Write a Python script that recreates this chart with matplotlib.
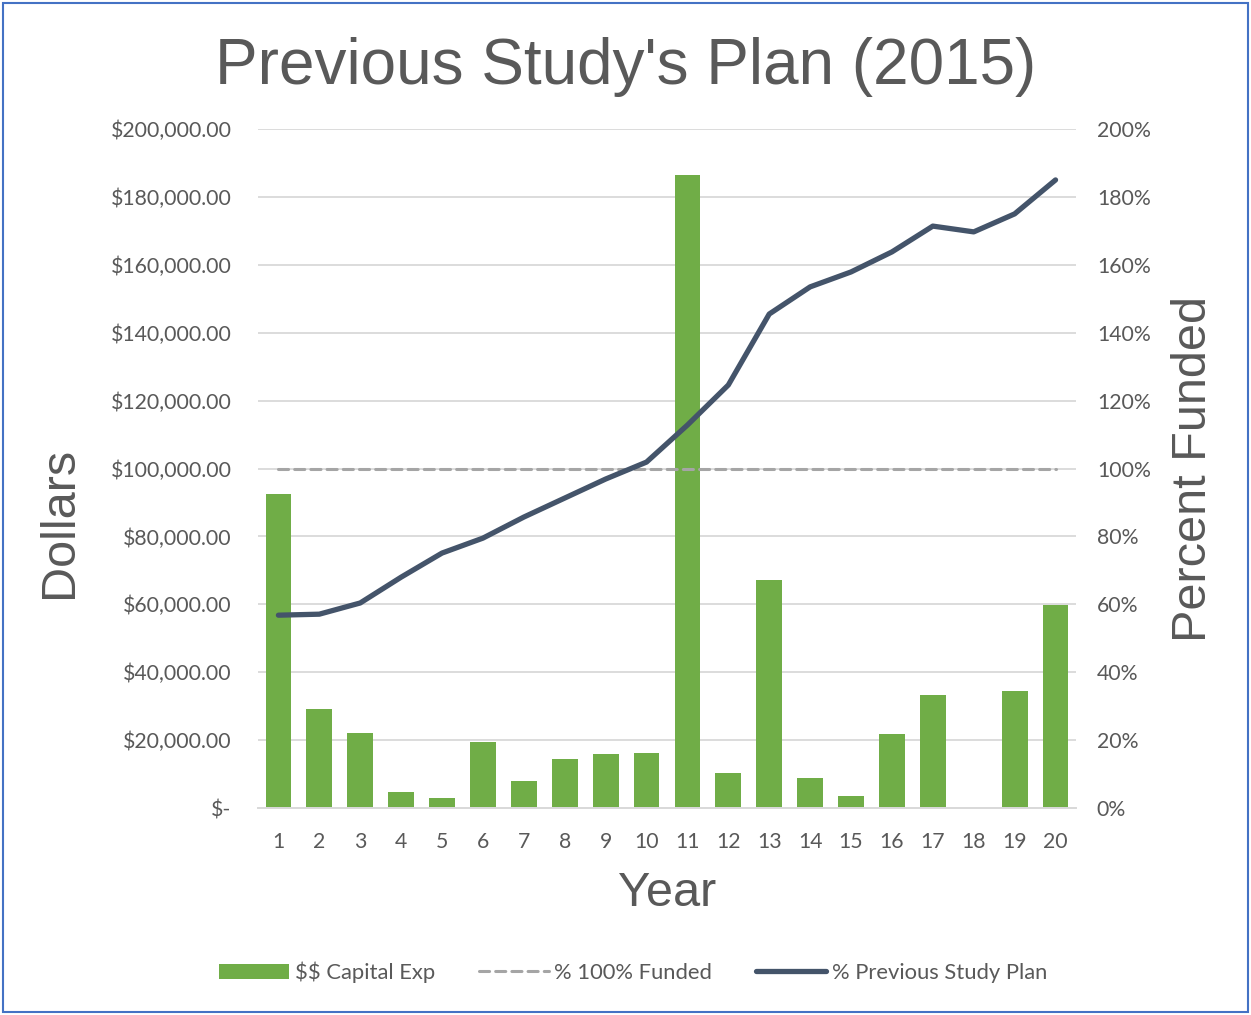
import numpy as np
import matplotlib.pyplot as plt
from matplotlib.patches import Rectangle
from matplotlib.ticker import FuncFormatter

years = list(range(1, 21))
capital_exp = [92500, 29200, 22100, 4700, 2900, 19400, 8000, 14400, 15900, 16200,
               186500, 10300, 67200, 8800, 3500, 21800, 33300, 0, 34500, 59800]
pct_100_funded = [100] * 20
pct_previous_plan = [56.8, 57.1, 60.4, 68.0, 75.1, 79.5, 85.7, 91.3, 96.9, 101.9,
                     112.8, 124.6, 145.5, 153.5, 157.9, 163.8, 171.4, 169.7, 175.0, 185.0]

txt = "#595959"
plt.rcParams['font.family'] = ['Lato', 'DejaVu Sans']
plt.rcParams['text.parse_math'] = False

fig = plt.figure(figsize=(12.51, 10.15), dpi=100)
ax = fig.add_axes([0.2062, 0.2039, 0.6539, 0.669])
ax2 = ax.twinx()

bars = ax.bar(years, capital_exp, width=0.63, color="#70AD47", zorder=2)
ax.set_xlim(0.5, 20.5)
ax.set_ylim(0, 200000)
ax.set_yticks(np.arange(0, 200001, 20000))
ax.yaxis.set_major_formatter(FuncFormatter(lambda v, p: "$-" if v == 0 else f"${v:,.2f}"))
ax.set_xticks(years)
ax.grid(axis="y", color="#D9D9D9", lw=1.3, zorder=0)
ax.set_axisbelow(True)

dash, = ax2.plot(years, pct_100_funded, color="#A5A5A5", lw=2.2, ls=(0, (3.3, 2)),
                 dash_capstyle="round", zorder=3)
plan, = ax2.plot(years, pct_previous_plan, color="#44546A", lw=3.8,
                 solid_capstyle="round", solid_joinstyle="round", zorder=4)
ax2.set_ylim(0, 200)
ax2.set_yticks(np.arange(0, 201, 20))
ax2.yaxis.set_major_formatter(FuncFormatter(lambda v, p: f"{v:.0f}%"))

for a in (ax, ax2):
    for s in ("top", "left", "right"):
        a.spines[s].set_visible(False)
    a.spines["bottom"].set_color("#D9D9D9")
    a.spines["bottom"].set_linewidth(1.3)
    a.tick_params(length=0, labelsize=15.3, labelcolor=txt)
ax.tick_params(axis="y", pad=19)
ax2.tick_params(axis="y", pad=15)
ax.tick_params(axis="x", pad=17)

ax.set_ylabel("Dollars", fontsize=35, color=txt, family="Liberation Sans")
ax.yaxis.set_label_coords(-0.215, 0.42)
ax2.set_ylabel("Percent Funded", fontsize=35, color=txt, family="Liberation Sans")
ax2.yaxis.set_label_coords(1.116, 0.5)
ax.set_xlabel("Year", fontsize=35, color=txt, family="Liberation Sans")
ax.xaxis.set_label_coords(0.5, -0.092)

fig.text(0.5, 0.934, "Previous Study's Plan (2015)", ha="center", va="center",
         fontsize=46, color=txt, family="Liberation Sans")

fig.legend([bars, dash, plan], ["$$ Capital Exp", "% 100% Funded", "% Previous Study Plan"],
           loc="center", bbox_to_anchor=(0.506, 0.042), ncol=3, frameon=False,
           fontsize=15.8, labelcolor=txt, handlelength=3.2, handletextpad=0.25,
           columnspacing=2.0)

fig.patches.append(Rectangle((0.002, 0.003), 0.996, 0.994, transform=fig.transFigure,
                             fill=False, edgecolor="#4472C4", lw=1.5))

fig.savefig("out.png", dpi=100)
